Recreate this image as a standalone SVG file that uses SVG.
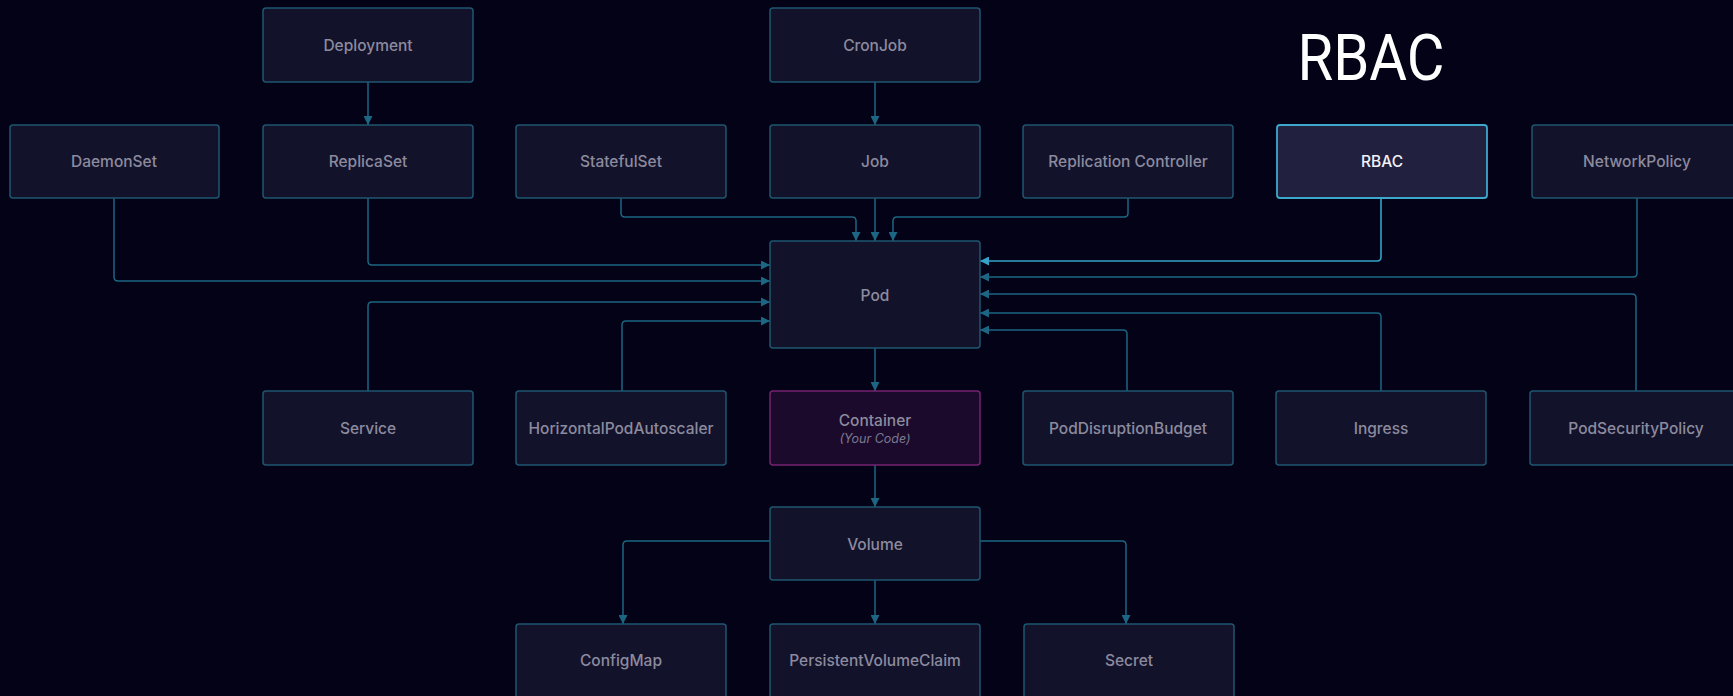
<svg xmlns="http://www.w3.org/2000/svg" width="1733" height="696" viewBox="0 0 1733 696">
<style>
.box{fill:#13122b;stroke:#1f5670;stroke-width:1.5}
.lbl{font-family:Inter,"Noto Sans","Liberation Sans",sans-serif;font-size:15.5px;font-weight:500;fill:#8c8b9e;text-anchor:middle;dominant-baseline:central}
.c{fill:none;stroke:#1d6683;stroke-width:1.5}
.hl{fill:none;stroke:#35a3c8;stroke-width:1.6}
</style>
<defs>
<marker id="a" viewBox="0 0 10 10" refX="10" refY="5" markerWidth="9" markerHeight="9" markerUnits="userSpaceOnUse" orient="auto"><path d="M0,0 L10,5 L0,10 z" fill="#1d6683"/></marker>
<marker id="ah" viewBox="0 0 10 10" refX="10" refY="5" markerWidth="9" markerHeight="9" markerUnits="userSpaceOnUse" orient="auto"><path d="M0,0 L10,5 L0,10 z" fill="#35a3c8"/></marker>
</defs>
<rect width="1733" height="696" fill="#030216"/>
<text x="1371" y="80" font-family="Roboto,'Liberation Sans',sans-serif" font-weight="400" font-size="65" fill="#ffffff" text-anchor="middle" textLength="147" lengthAdjust="spacingAndGlyphs">RBAC</text>
<g id="connectors">
<path class="c" d="M368,82 V125" marker-end="url(#a)"/>
<path class="c" d="M875,82 V125" marker-end="url(#a)"/>
<path class="c" d="M114,198 V277 Q114,281 118,281 H770" marker-end="url(#a)"/>
<path class="c" d="M368,198 V261 Q368,265 372,265 H770" marker-end="url(#a)"/>
<path class="c" d="M621,198 V213 Q621,217 625,217 H852 Q856,217 856,221 V241" marker-end="url(#a)"/>
<path class="c" d="M875,198 V241" marker-end="url(#a)"/>
<path class="c" d="M1128,198 V213 Q1128,217 1124,217 H897 Q893,217 893,221 V241" marker-end="url(#a)"/>
<path class="hl" d="M1381,198 V257 Q1381,261 1377,261 H980" marker-end="url(#ah)"/>
<path class="c" d="M1637,198 V273 Q1637,277 1633,277 H980" marker-end="url(#a)"/>
<path class="c" d="M1636,391 V298 Q1636,294 1632,294 H980" marker-end="url(#a)"/>
<path class="c" d="M1381,391 V317 Q1381,313 1377,313 H980" marker-end="url(#a)"/>
<path class="c" d="M1127,391 V334 Q1127,330 1123,330 H980" marker-end="url(#a)"/>
<path class="c" d="M368,391 V306 Q368,302 372,302 H770" marker-end="url(#a)"/>
<path class="c" d="M622,391 V325 Q622,321 626,321 H770" marker-end="url(#a)"/>
<path class="c" d="M875,348 V391" marker-end="url(#a)"/>
<path class="c" d="M875,465 V507" marker-end="url(#a)"/>
<path class="c" d="M770,541 H627 Q623,541 623,545 V624" marker-end="url(#a)"/>
<path class="c" d="M875,580 V624" marker-end="url(#a)"/>
<path class="c" d="M980,541 H1122 Q1126,541 1126,545 V624" marker-end="url(#a)"/>
</g>
<g id="deployment"><rect class="box" x="263" y="8" width="210" height="74" rx="3"/><text class="lbl" x="368" y="45">Deployment</text></g>
<g id="cronjob"><rect class="box" x="770" y="8" width="210" height="74" rx="3"/><text class="lbl" x="875" y="45">CronJob</text></g>
<g id="daemonset"><rect class="box" x="10" y="125" width="209" height="73" rx="3"/><text class="lbl" x="114" y="161">DaemonSet</text></g>
<g id="replicaset"><rect class="box" x="263" y="125" width="210" height="73" rx="3"/><text class="lbl" x="368" y="161">ReplicaSet</text></g>
<g id="statefulset"><rect class="box" x="516" y="125" width="210" height="73" rx="3"/><text class="lbl" x="621" y="161">StatefulSet</text></g>
<g id="job"><rect class="box" x="770" y="125" width="210" height="73" rx="3"/><text class="lbl" x="875" y="161">Job</text></g>
<g id="replication-controller"><rect class="box" x="1023" y="125" width="210" height="73" rx="3"/><text class="lbl" x="1128" y="161">Replication Controller</text></g>
<g id="rbac"><rect x="1277" y="125" width="210" height="73" rx="3" fill="#22203f" stroke="#3ea8cc" stroke-width="1.8"/><text class="lbl" x="1382" y="161" style="fill:#f2f2f8">RBAC</text></g>
<g id="networkpolicy"><rect class="box" x="1532" y="125" width="210" height="73" rx="3"/><text class="lbl" x="1637" y="161">NetworkPolicy</text></g>
<g id="pod"><rect class="box" x="770" y="241" width="210" height="107" rx="3"/><text class="lbl" x="875" y="295">Pod</text></g>
<g id="service"><rect class="box" x="263" y="391" width="210" height="74" rx="3"/><text class="lbl" x="368" y="428">Service</text></g>
<g id="hpa"><rect class="box" x="516" y="391" width="210" height="74" rx="3"/><text class="lbl" x="621" y="428">HorizontalPodAutoscaler</text></g>
<g id="container"><rect x="770" y="391" width="210" height="74" rx="3" fill="#1b0a2c" stroke="#76236f" stroke-width="1.5"/><text class="lbl" x="875" y="420">Container</text><text class="lbl" x="875" y="438" style="font-size:12.5px;font-style:italic;font-weight:400;fill:#7c7a90">(Your Code)</text></g>
<g id="pdb"><rect class="box" x="1023" y="391" width="210" height="74" rx="3"/><text class="lbl" x="1128" y="428">PodDisruptionBudget</text></g>
<g id="ingress"><rect class="box" x="1276" y="391" width="210" height="74" rx="3"/><text class="lbl" x="1381" y="428">Ingress</text></g>
<g id="psp"><rect class="box" x="1530" y="391" width="210" height="74" rx="3"/><text class="lbl" x="1636" y="428">PodSecurityPolicy</text></g>
<g id="volume"><rect class="box" x="770" y="507" width="210" height="73" rx="3"/><text class="lbl" x="875" y="544">Volume</text></g>
<g id="configmap"><rect class="box" x="516" y="624" width="210" height="80" rx="3"/><text class="lbl" x="621" y="660">ConfigMap</text></g>
<g id="pvc"><rect class="box" x="770" y="624" width="210" height="80" rx="3"/><text class="lbl" x="875" y="660">PersistentVolumeClaim</text></g>
<g id="secret"><rect class="box" x="1024" y="624" width="210" height="80" rx="3"/><text class="lbl" x="1129" y="660">Secret</text></g>
</svg>
